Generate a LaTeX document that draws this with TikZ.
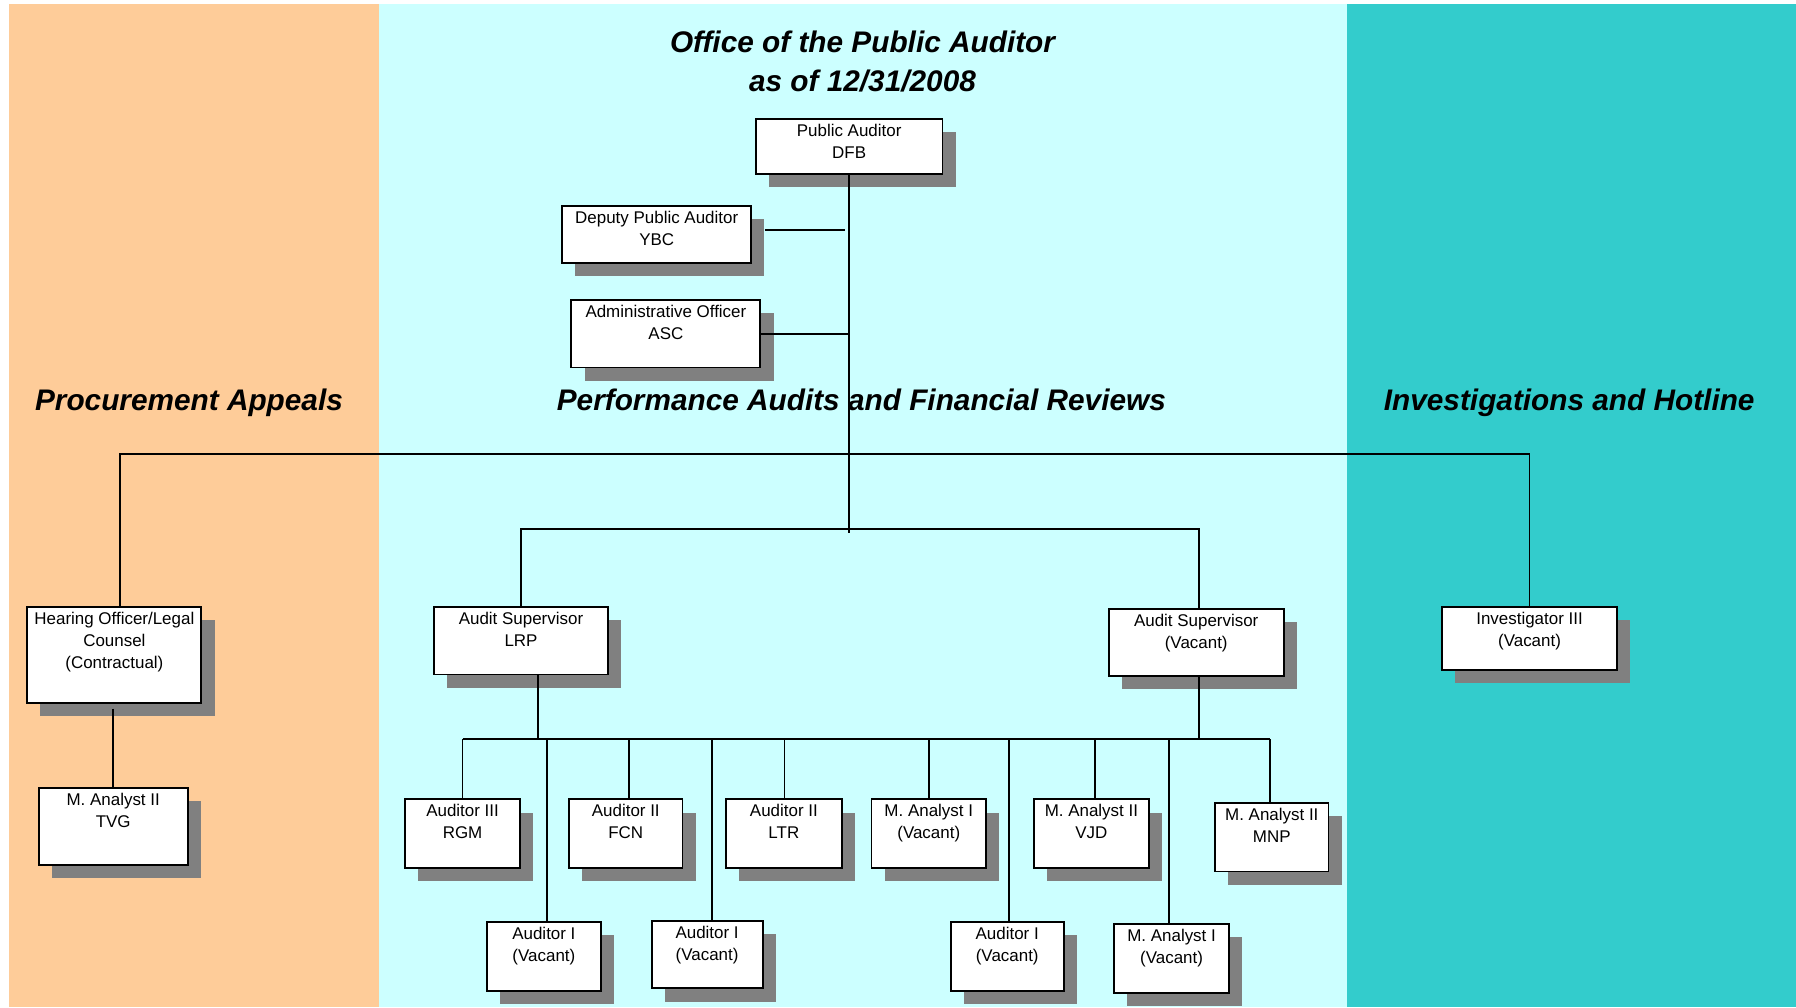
\documentclass[tikz,border=0pt]{standalone}
\usepackage{fontspec}
\setmainfont{Liberation Sans}
\usetikzlibrary{shadows}
\definecolor{peach}{HTML}{FECC99}
\definecolor{lightcyan}{HTML}{CCFFFF}
\definecolor{tealbg}{HTML}{33CCCC}
\definecolor{shadowgray}{HTML}{808080}
\tikzset{
  obox/.style={draw=black, line width=1.7pt, fill=white, inner sep=0pt, anchor=north west,
    drop shadow={shadow xshift=11.5pt, shadow yshift=-11.5pt, fill=shadowgray, opacity=1}},
  otext/.style={anchor=north, align=center, inner sep=0pt, font=\fontsize{14.8}{19.5}\selectfont},
  heading/.style={inner sep=0pt, anchor=base, font=\fontsize{26}{33}\selectfont\bfseries\itshape},
  conn/.style={line width=1.6pt, draw=black}
}
\newcommand\orgbox[6]{%
  \node[obox, minimum width=#4pt, minimum height=#5pt] (#1) at (#2,#3) {};
  \node[otext] (#1-t) at ([yshift=-5pt]#1.north) {#6};}
\begin{document}
\begin{tikzpicture}[x=1pt,y=-1pt]
\useasboundingbox (0,0) rectangle (1568,879.2);
% backgrounds
\fill[peach] (8,3.5) rectangle (331,879.2);
\fill[lightcyan] (331,3.5) rectangle (1176,879.2);
\fill[tealbg] (1176,3.5) rectangle (1568,879.2);

% headings
\node[heading] (title1) at (753,46) {Office of the Public Auditor};
\node[heading] (title2) at (753,79.5) {as of 12/31/2008};

% boxes
\orgbox{pa}{659}{103}{163}{48}{Public Auditor\\DFB}
\orgbox{dep}{490}{179}{165}{50}{Deputy Public Auditor\\YBC}
\orgbox{adm}{498}{261}{165}{59}{Administrative Officer\\ASC}
\orgbox{hear}{23}{529}{152}{84}{Hearing Officer/Legal\\Counsel\\(Contractual)}
\orgbox{tvg}{33}{687}{130}{67}{M. Analyst II\\TVG}
\orgbox{lrp}{378}{529}{152}{59}{Audit Supervisor\\LRP}
\orgbox{asv}{967}{531}{153}{58}{Audit Supervisor\\(Vacant)}
\orgbox{inv}{1258}{529}{153}{55}{Investigator III\\(Vacant)}
\orgbox{rgm}{353}{697}{100}{60}{Auditor III\\RGM}
\orgbox{fcn}{496}{697}{99}{60}{Auditor II\\FCN}
\orgbox{ltr}{633}{697}{101}{60}{Auditor II\\LTR}
\orgbox{maa}{760}{697}{100}{60}{M. Analyst I\\(Vacant)}
\orgbox{vjd}{902}{697}{100}{60}{M. Analyst II\\VJD}
\orgbox{mnp}{1060}{700}{99}{60}{M. Analyst II\\MNP}
\orgbox{aua}{424}{804}{100}{60}{Auditor I\\(Vacant)}
\orgbox{aub}{568}{803}{97}{59}{Auditor I\\(Vacant)}
\orgbox{auc}{829}{804}{99}{60}{Auditor I\\(Vacant)}
\orgbox{mab}{972}{806}{100}{60}{M. Analyst I\\(Vacant)}

\coordinate (b1) at (0,396);
\coordinate (b2) at (0,462);
\coordinate (b3) at (0,645);
\coordinate (busL) at (105,396);
\coordinate (busR) at (inv.north |- b1);
\coordinate (vend) at (0,465.5);

% connectors
\draw[conn] (pa.south) -- (pa.south |- vend);
\draw[conn] ([shift={(11,-4)}]dep.east) -- ([shift={(-3.5,-4)}]pa.south |- dep.east);
\draw[conn] (adm.east) -- (pa.south |- adm.east);
\draw[conn] (busL |- hear.north) -- (busL) -- (busR) -- (inv.north);
\draw[conn] (lrp.north) -- (lrp.north |- b2) -- ([xshift=2.5pt]asv.north |- b2) -- ([xshift=2.5pt]asv.north);
\draw[conn] ([yshift=-4pt]tvg.north |- hear.south) -- (tvg.north);
\draw[conn] ([xshift=15pt]lrp.south) -- ([xshift=15pt]lrp.south |- b3);
\draw[conn] ([xshift=2.5pt]asv.south) -- ([xshift=2.5pt]asv.south |- b3);
\draw[conn] (rgm.north |- b3) -- ([xshift=-1.5pt]mnp.north |- b3);
\foreach \c/\dx in {rgm/0, fcn/2.5, ltr/0.5, maa/0, vjd/3, mnp/-1.5, aua/3, aub/4.5, auc/1.5, mab/-2} {
  \draw[conn] ([xshift=\dx pt]\c.north) -- ([xshift=\dx pt]\c.north |- b3);
}

% section headings
\node[heading] (secA) at (165,358) {Procurement Appeals};
\node[heading] (secB) at (752,358) {Performance Audits and Financial Reviews};
\node[heading] (secC) at (1370,358) {Investigations and Hotline};
\end{tikzpicture}
\end{document}
